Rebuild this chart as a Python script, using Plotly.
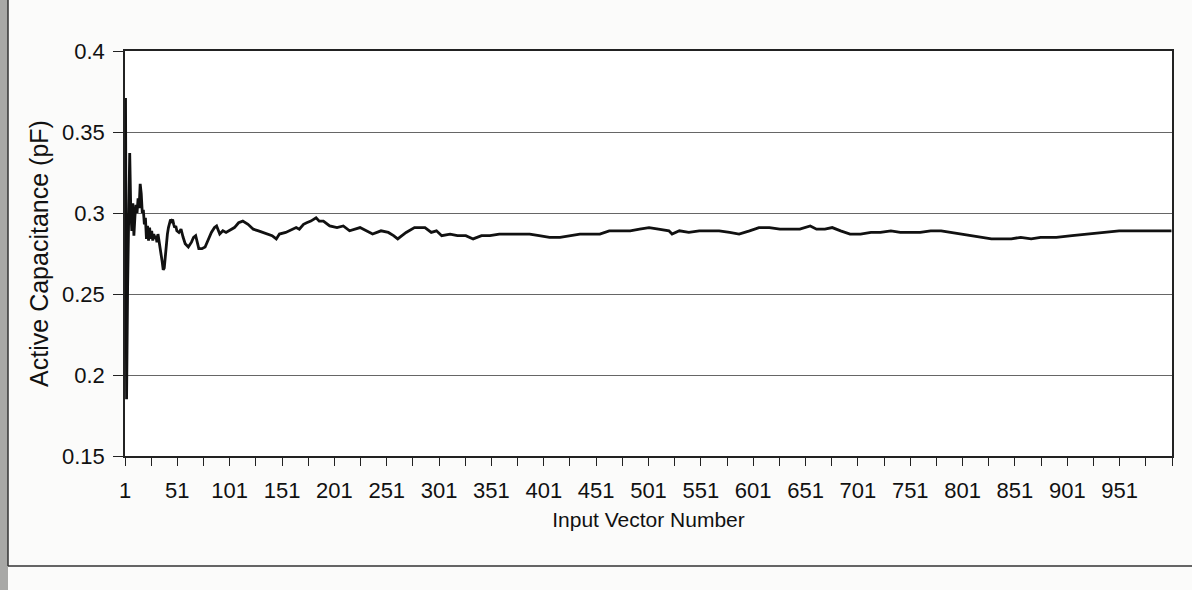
import plotly.graph_objects as go

# ---- data ----
vector_number = [
    1, 2, 3, 4, 5, 6, 7, 8, 9, 10, 11, 12, 13, 14, 15, 16, 17, 18, 19, 20,
    21, 22, 23, 24, 25, 26, 27, 28, 29, 30, 31, 32, 33, 34, 35, 36, 37, 38, 39, 40,
    41, 42, 43, 44, 45, 46, 47, 48, 49, 50, 52, 54, 56, 58, 61, 64, 66, 68, 71, 74,
    77, 80, 83, 86, 88, 91, 94, 97, 100, 105, 109, 113, 118, 123, 128, 132, 137, 141, 145, 148,
    154, 161, 164, 167, 171, 174, 178, 183, 186, 190, 196, 203, 209, 215, 225, 231, 237, 245, 252, 257,
    261, 265, 269, 277, 282, 287, 293, 298, 303, 311, 318, 326, 333, 341, 349, 358, 368, 377, 387, 396,
    406, 416, 425, 435, 444, 454, 463, 473, 483, 492, 501, 510, 520, 523, 530, 539, 549, 558, 568, 578,
    587, 597, 606, 616, 626, 635, 645, 655, 661, 669, 676, 684, 693, 703, 713, 722, 732, 741, 751, 760,
    770, 780, 789, 799, 808, 818, 828, 837, 847, 856, 866, 875, 890, 905, 920, 935, 950, 965, 980, 1000,
]
active_capacitance = [
    0.371, 0.185, 0.255, 0.310, 0.337, 0.302, 0.289, 0.306, 0.286, 0.298, 0.305, 0.300, 0.309, 0.303, 0.318, 0.312, 0.300, 0.302, 0.293, 0.297,
    0.284, 0.292, 0.283, 0.291, 0.284, 0.289, 0.283, 0.287, 0.284, 0.286, 0.282, 0.287, 0.283, 0.280, 0.276, 0.270, 0.265, 0.266, 0.273, 0.281,
    0.287, 0.291, 0.294, 0.296, 0.295, 0.296, 0.293, 0.291, 0.292, 0.289, 0.288, 0.290, 0.285, 0.281, 0.279, 0.282, 0.285, 0.286, 0.278, 0.278,
    0.279, 0.284, 0.288, 0.291, 0.292, 0.287, 0.289, 0.288, 0.289, 0.291, 0.294, 0.295, 0.293, 0.290, 0.289, 0.288, 0.287, 0.286, 0.284, 0.287,
    0.288, 0.290, 0.291, 0.290, 0.293, 0.294, 0.295, 0.297, 0.295, 0.295, 0.292, 0.291, 0.292, 0.289, 0.291, 0.289, 0.287, 0.289, 0.288, 0.286,
    0.284, 0.286, 0.288, 0.291, 0.291, 0.291, 0.288, 0.289, 0.286, 0.287, 0.286, 0.286, 0.284, 0.286, 0.286, 0.287, 0.287, 0.287, 0.287, 0.286,
    0.285, 0.285, 0.286, 0.287, 0.287, 0.287, 0.289, 0.289, 0.289, 0.290, 0.291, 0.290, 0.289, 0.287, 0.289, 0.288, 0.289, 0.289, 0.289, 0.288,
    0.287, 0.289, 0.291, 0.291, 0.290, 0.290, 0.290, 0.292, 0.290, 0.290, 0.291, 0.289, 0.287, 0.287, 0.288, 0.288, 0.289, 0.288, 0.288, 0.288,
    0.289, 0.289, 0.288, 0.287, 0.286, 0.285, 0.284, 0.284, 0.284, 0.285, 0.284, 0.285, 0.285, 0.286, 0.287, 0.288, 0.289, 0.289, 0.289, 0.289,
]
x_label_values = [1, 51, 101, 151, 201, 251, 301, 351, 401, 451, 501, 551, 601, 651, 701, 751, 801, 851, 901, 951]
y_tick_values = [0.15, 0.2, 0.25, 0.3, 0.35, 0.4]
y_tick_text = ["0.15", "0.2", "0.25", "0.3", "0.35", "0.4"]

# ---- layout constants ----
W, H = 1192, 590
ML, MR, MT, MB = 125, 20, 51, 134
FONT = "Liberation Sans, Arial, sans-serif"

# x ticks every 25 vectors, labels every 50
x_tick_vals = []
x_tick_text = []
for k in range(0, 41):
    v = 1 + 25 * k
    x_tick_vals.append(v - 0.5)
    x_tick_text.append(str(v) if v in x_label_values else "")

fig = go.Figure()
fig.add_trace(go.Scatter(
    x=vector_number, y=active_capacitance, mode="lines",
    line=dict(color="#111111", width=2.8), showlegend=False,
))

fig.update_layout(
    width=W, height=H,
    margin=dict(l=ML, r=MR, t=MT, b=MB),
    paper_bgcolor="#fbfbfa", plot_bgcolor="#ffffff",
    font=dict(family=FONT, size=21, color="#111111"),
    xaxis=dict(
        range=[0.5, 1000.5], tickmode="array",
        tickvals=x_tick_vals, ticktext=x_tick_text,
        ticks="outside", ticklen=8, tickwidth=1.3, tickcolor="#222222",
        showline=True, linecolor="#222222", linewidth=1.6, mirror=True,
        showgrid=False, zeroline=False,
        tickfont=dict(size=22, family=FONT), ticklabelstandoff=6,
        title=dict(text="Input Vector Number", font=dict(size=21, family=FONT), standoff=10),
    ),
    yaxis=dict(
        range=[0.15, 0.4], tickmode="array",
        tickvals=y_tick_values, ticktext=y_tick_text,
        ticks="outside", ticklen=10, tickwidth=1.3, tickcolor="#222222",
        showline=True, linecolor="#222222", linewidth=1.6, mirror=True,
        showgrid=True, gridcolor="#666666", gridwidth=1,
        zeroline=False,
        tickfont=dict(size=22, family=FONT), ticklabelstandoff=4,
        title=dict(text="Active Capacitance (pF)", font=dict(size=25, family=FONT), standoff=6),
    ),
)

# outer chart frame (left and bottom edges visible in the scan)
plot_w = W - ML - MR
plot_h = H - MT - MB
def px_x(p):
    return (p - ML) / plot_w
def px_y(p):
    return (H - MB - p) / plot_h

fig.add_shape(type="rect", xref="paper", yref="paper",
              x0=px_x(0), x1=px_x(8), y0=px_y(H), y1=px_y(0),
              fillcolor="#a8a8a6", line=dict(width=0), layer="below")
fig.add_shape(type="line", xref="paper", yref="paper",
              x0=px_x(8), x1=px_x(8), y0=px_y(566), y1=px_y(0),
              line=dict(color="#333333", width=1.5))
fig.add_shape(type="line", xref="paper", yref="paper",
              x0=px_x(8), x1=px_x(W), y0=px_y(566), y1=px_y(566),
              line=dict(color="#333333", width=1.5))

fig.write_html("out.html")
